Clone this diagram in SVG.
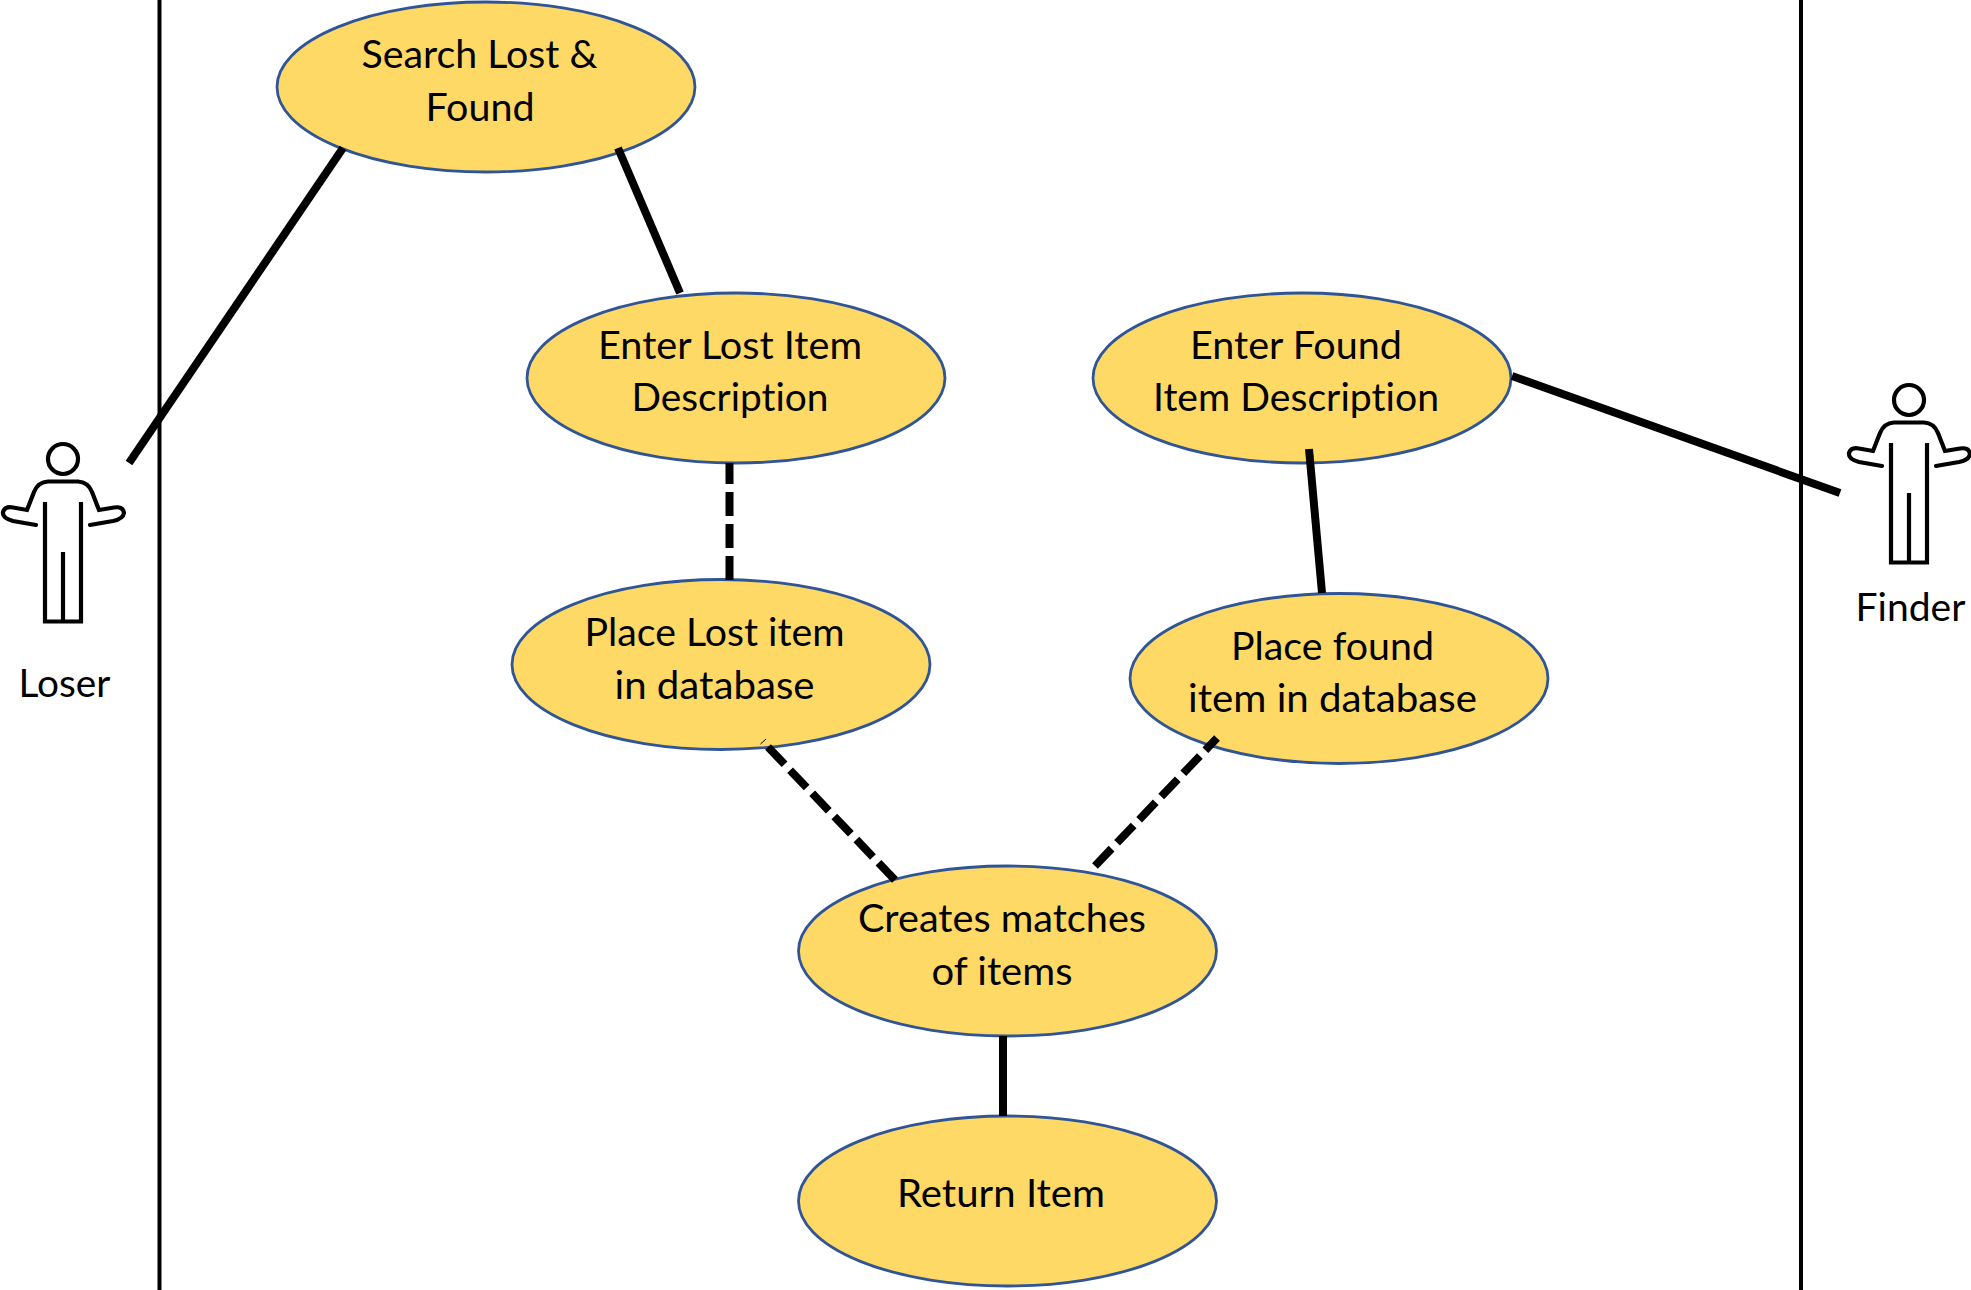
<svg xmlns="http://www.w3.org/2000/svg" width="1971" height="1290" viewBox="0 0 1971 1290">
<style>
.n{fill:#FFD966;stroke:#2F5597;stroke-width:2.800}
.t{font-family:Lato,"Open Sans",sans-serif;font-size:38px;fill:#000;text-anchor:middle;font-variant-ligatures:none}
.b{stroke:#000;stroke-width:4;fill:none}
.c{stroke:#000;stroke-width:8;fill:none}
.d{stroke-dasharray:24 8}
.a{stroke:#000;stroke-width:4.200;fill:none;stroke-linecap:round}
</style>
<defs>
<g id="actor">
<circle class="a" cx="63" cy="39" r="15"/>
<path class="a" d="M36,105 L13,101 Q2,98 3,92 Q5,86 13,87.500 L27,90 L34,72 Q38,62 48,61.500 L78,61.500 Q88,62 92,72 L99,90 L114,87.500 Q123,86 124,93 Q123,99 113,101 L90,105"/>
<path class="a" style="stroke-linecap:butt" d="M45,82 V201.500 H81 V82 M63,132 V201.500"/>
</g>
</defs>
<rect width="1971" height="1290" fill="#fff"/>
<g id="boundaries">
<line class="b" x1="159.500" y1="0" x2="159.500" y2="1290"/>
<line class="b" x1="1801" y1="0" x2="1801" y2="1290"/>
</g>
<g id="search"><ellipse class="n" cx="486" cy="87" rx="209" ry="85"/>
<text class="t" x="479.500" y="68" textLength="236" lengthAdjust="spacingAndGlyphs">Search Lost &amp;</text>
<text class="t" x="480" y="121" textLength="109" lengthAdjust="spacingAndGlyphs">Found</text></g>
<g id="enter-lost"><ellipse class="n" cx="736" cy="378" rx="209" ry="85"/>
<text class="t" x="730" y="359" textLength="264" lengthAdjust="spacingAndGlyphs">Enter Lost Item</text>
<text class="t" x="730" y="411" textLength="197" lengthAdjust="spacingAndGlyphs">Description</text></g>
<g id="place-lost"><ellipse class="n" cx="721" cy="664.500" rx="209" ry="85"/>
<text class="t" x="714.500" y="646" textLength="260" lengthAdjust="spacingAndGlyphs">Place Lost item</text>
<text class="t" x="714.500" y="699" textLength="200" lengthAdjust="spacingAndGlyphs">in database</text></g>
<g id="enter-found"><ellipse class="n" cx="1302" cy="378" rx="209" ry="85"/>
<text class="t" x="1296" y="359" textLength="212" lengthAdjust="spacingAndGlyphs">Enter Found</text>
<text class="t" x="1296" y="411" textLength="286" lengthAdjust="spacingAndGlyphs">Item Description</text></g>
<g id="place-found"><ellipse class="n" cx="1339" cy="678.500" rx="209" ry="85"/>
<text class="t" x="1332.500" y="660" textLength="203" lengthAdjust="spacingAndGlyphs">Place found</text>
<text class="t" x="1332.500" y="712" textLength="289" lengthAdjust="spacingAndGlyphs">item in database</text></g>
<g id="creates"><ellipse class="n" cx="1007.500" cy="951" rx="209" ry="85"/>
<text class="t" x="1002" y="932" textLength="288" lengthAdjust="spacingAndGlyphs">Creates matches</text>
<text class="t" x="1002" y="985" textLength="141" lengthAdjust="spacingAndGlyphs">of items</text></g>
<g id="return"><ellipse class="n" cx="1007.500" cy="1201" rx="209" ry="85"/>
<text class="t" x="1001" y="1206.500" textLength="208" lengthAdjust="spacingAndGlyphs">Return Item</text></g>
<g id="loser"><use href="#actor" x="0" y="420"/>
<text class="t" x="64.500" y="697" textLength="92" lengthAdjust="spacingAndGlyphs">Loser</text></g>
<g id="finder"><use href="#actor" x="1846" y="361"/>
<text class="t" x="1910.500" y="621" textLength="110" lengthAdjust="spacingAndGlyphs">Finder</text></g>
<g id="connectors">
<line class="c" x1="129" y1="463" x2="343" y2="148"/>
<line class="c" x1="618" y1="148" x2="680" y2="293"/>
<line class="c d" x1="729.500" y1="580" x2="729.500" y2="463"/>
<line class="c" x1="1309" y1="449" x2="1322" y2="593"/>
<line class="c" x1="1512" y1="376" x2="1840" y2="493"/>
<line class="c d" x1="768" y1="747" x2="895" y2="880"/>
<line class="c d" x1="1095" y1="866" x2="1217" y2="738"/>
<line class="c" x1="1003" y1="1036" x2="1003" y2="1116"/>
<line x1="760.500" y1="744" x2="766" y2="739" stroke="#000" stroke-width="1"/>
</g>
</svg>
